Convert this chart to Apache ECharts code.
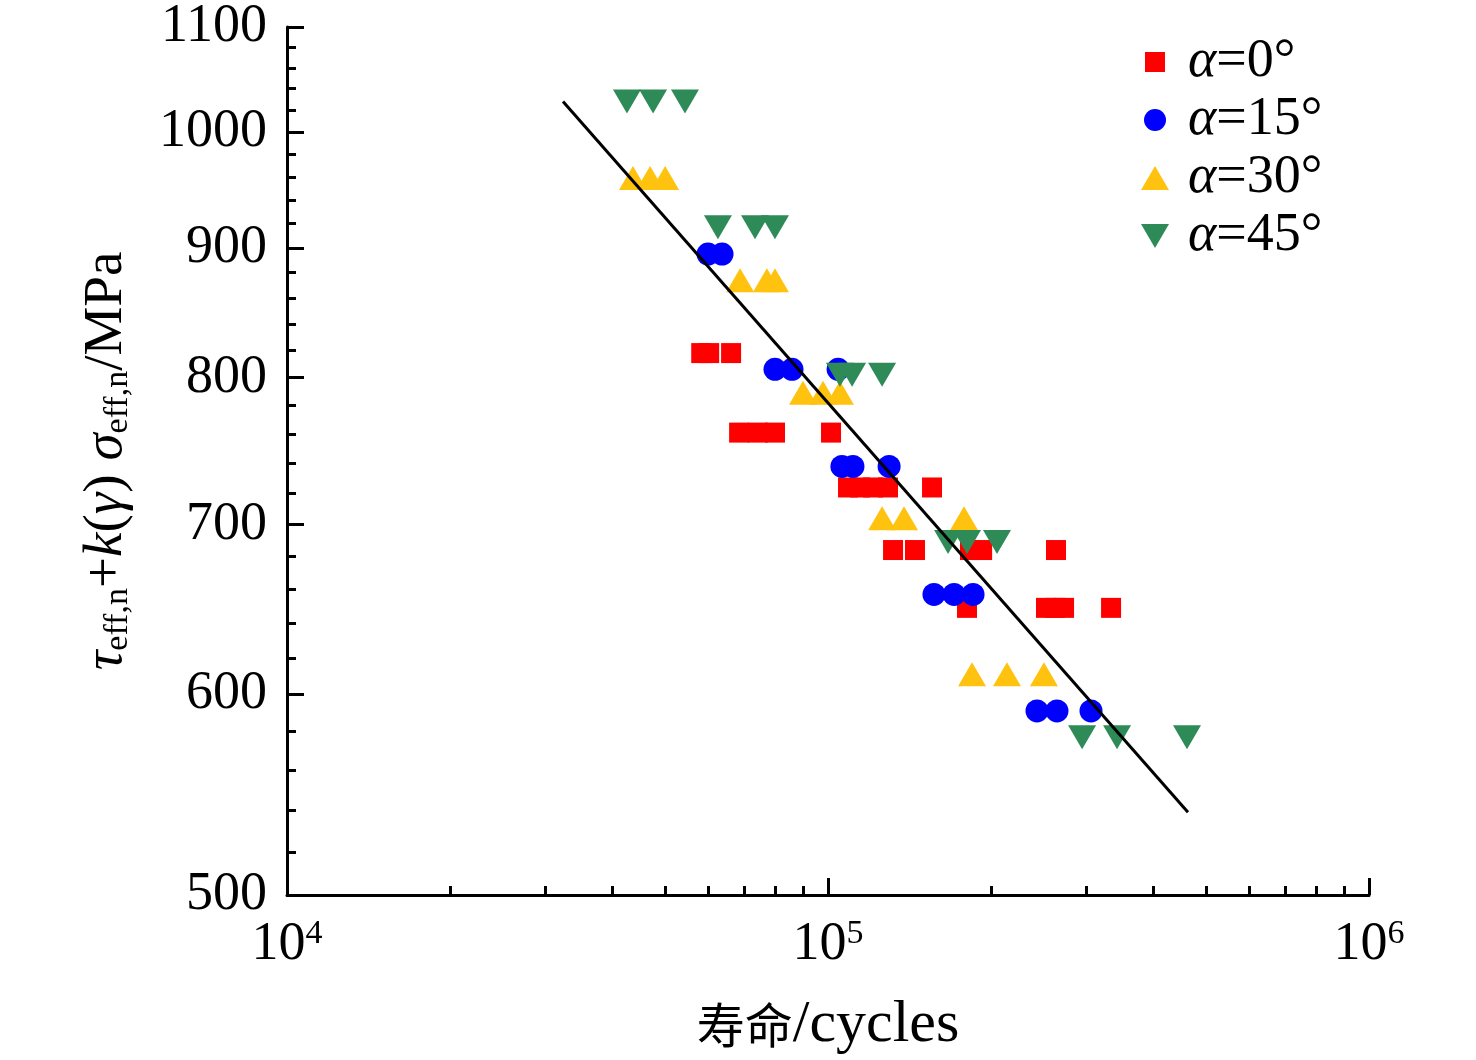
<!DOCTYPE html>
<html>
<head>
<meta charset="utf-8">
<title>寿命曲线</title>
<script src="https://cdn.jsdelivr.net/npm/echarts@6/dist/echarts.min.js"></script>
<style>
html, body { margin: 0; padding: 0; background: #fff; }
#main { width: 1476px; height: 1060px; }
</style>
</head>
<body>
<div id="main"></div>
<script>
// values (cycles, MPa)
var names = ['α=0°', 'α=15°', 'α=30°', 'α=45°'];

var life0 = [5.83e4, 6.03e4, 6.62e4, 6.85e4, 7.42e4, 7.98e4, 1.013e5, 1.089e5, 1.146e5, 1.211e5, 1.291e5, 1.557e5,
             1.319e5, 1.448e5, 1.83e5, 1.927e5, 2.639e5, 1.807e5, 2.529e5, 2.628e5, 2.731e5, 3.336e5];
var stress0 = [818, 818, 818, 761, 761, 761, 761, 724, 724, 724, 724, 724,
               684, 684, 684, 684, 684, 649, 649, 649, 649, 649];

var life15 = [6.0e4, 6.37e4, 7.98e4, 8.58e4, 1.044e5, 1.061e5, 1.112e5, 1.297e5, 1.57e5, 1.71e5, 1.854e5, 2.434e5, 2.65e5, 3.063e5];
var stress15 = [895, 895, 806, 806, 806, 738, 738, 738, 657, 657, 657, 591, 591, 591];

var life30 = [4.36e4, 4.69e4, 5.0e4, 6.88e4, 7.71e4, 7.98e4, 8.99e4, 9.79e4, 1.052e5, 1.259e5, 1.382e5, 1.784e5, 1.846e5, 2.142e5, 2.507e5];
var stress30 = [959, 959, 959, 874, 874, 874, 789, 789, 789, 704, 704, 704, 611, 611, 611];

var life45 = [4.25e4, 4.75e4, 5.44e4, 6.26e4, 7.33e4, 7.98e4, 1.052e5, 1.108e5, 1.259e5, 1.667e5, 1.807e5, 2.053e5, 2.949e5, 3.422e5, 4.609e5];
var stress45 = [1028, 1028, 1028, 917, 917, 917, 802, 802, 802, 689, 689, 689, 577, 577, 577];

// fitted line end points
var fitLife = [3.237e4, 4.628e5];
var fitStress = [1028, 539];

var yTicks = [500, 600, 700, 800, 900, 1000, 1100];
var yMinor = [520, 540, 560, 580, 620, 640, 660, 680, 720, 740, 760, 780,
              820, 840, 860, 880, 920, 940, 960, 980, 1020, 1040, 1060, 1080];
var xTicks = [1e4, 1e5, 1e6];
var xMinor = [2e4, 3e4, 4e4, 5e4, 6e4, 7e4, 8e4, 9e4, 2e5, 3e5, 4e5, 5e5, 6e5, 7e5, 8e5, 9e5];

var colors = ['#ff0000', '#0000ff', '#ffc20e', '#2e8b57'];

var lg = Math.log10;
function pairs(xs, ys) {
    return xs.map(function (x, i) { return [lg(x), lg(ys[i])]; });
}

var serif = 'Liberation Serif';
var chart = echarts.init(document.getElementById('main'));

var yMin = lg(yTicks[0]), yMax = lg(yTicks[yTicks.length - 1]);
var xMin = lg(xTicks[0]), xMax = lg(xTicks[xTicks.length - 1]);

var option = {
    animation: false,
    backgroundColor: '#fff',
    grid: { left: 287, right: 107, top: 27, bottom: 164 },
    legend: {
        orient: 'vertical',
        left: 1141,
        top: 35,
        padding: 0,
        itemWidth: 28,
        itemHeight: 24,
        itemGap: 4,
        symbolKeepAspect: false,
        data: [
            { name: names[0], icon: 'path://M0,0L0,0M28,24L28,24M4,2L24,2L24,22L4,22Z' },
            { name: names[1], icon: 'path://M0,0L0,0M28,24L28,24M3,12A11,11 0 1,0 25,12A11,11 0 1,0 3,12Z' },
            { name: names[2], icon: 'path://M14,0L28,24L0,24Z' },
            { name: names[3], icon: 'path://M0,0L28,0L14,24Z' }
        ],
        formatter: function (name) {
            return '{g|α}{t|' + name.slice(1) + '}';
        },
        textStyle: {
            fontFamily: serif,
            fontSize: 54,
            color: '#000',
            padding: [0, 0, 0, 14],
            rich: {
                g: { fontFamily: serif, fontStyle: 'italic', fontSize: 54, lineHeight: 50, color: '#000' },
                t: { fontFamily: serif, fontSize: 54, lineHeight: 50, color: '#000' }
            }
        }
    },
    xAxis: [{
        type: 'value',
        min: xMin,
        max: xMax,
        interval: 1,
        name: '{cn|寿命}{en|/cycles}',
        nameLocation: 'middle',
        nameGap: 100,
        nameTextStyle: {
            rich: {
                cn: { fontFamily: 'Noto Sans CJK SC', fontSize: 48, color: '#000' },
                en: { fontFamily: serif, fontSize: 60, color: '#000' }
            }
        },
        axisLine: { onZero: false, lineStyle: { color: '#000', width: 3 } },
        axisTick: { inside: true, length: 17, lineStyle: { color: '#000', width: 3 } },
        axisLabel: {
            margin: 22,
            formatter: function (v) { return '10{sup|' + Math.round(v) + '}'; },
            fontFamily: serif,
            fontSize: 54,
            color: '#000',
            rich: {
                sup: { fontFamily: serif, fontSize: 34, color: '#000', padding: [0, 0, 22, 0] }
            }
        },
        splitLine: { show: false }
    }, {
        type: 'value',
        position: 'bottom',
        min: xMin,
        max: xMax,
        axisLine: { show: false, onZero: false },
        axisTick: {
            inside: true,
            length: 9,
            customValues: xMinor.map(lg),
            lineStyle: { color: '#000', width: 3 }
        },
        axisLabel: { show: false },
        splitLine: { show: false }
    }],
    yAxis: [{
        type: 'value',
        min: yMin,
        max: yMax,
        name: '{it|τ}{sub|eff,n}{r|+}{it|k}{r|(}{it|γ}{r|) }{it|σ}{sub|eff,n}{r|/MPa}',
        nameLocation: 'middle',
        nameRotate: 90,
        nameGap: 152,
        nameTextStyle: {
            rich: {
                it: { fontFamily: serif, fontStyle: 'italic', fontSize: 55, color: '#000' },
                r: { fontFamily: serif, fontSize: 55, color: '#000' },
                sub: { fontFamily: serif, fontSize: 34, color: '#000', padding: [22, 0, 0, 0] }
            }
        },
        axisLine: { onZero: false, lineStyle: { color: '#000', width: 3 } },
        axisTick: {
            inside: true,
            length: 17,
            customValues: yTicks.map(lg),
            lineStyle: { color: '#000', width: 3 }
        },
        axisLabel: {
            margin: 20,
            customValues: yTicks.map(lg),
            formatter: function (v) { return String(Math.round(Math.pow(10, v))); },
            fontFamily: serif,
            fontSize: 54,
            color: '#000'
        },
        splitLine: { show: false }
    }, {
        type: 'value',
        position: 'left',
        min: yMin,
        max: yMax,
        axisLine: { show: false, onZero: false },
        axisTick: {
            inside: true,
            length: 9,
            customValues: yMinor.map(lg),
            lineStyle: { color: '#000', width: 3 }
        },
        axisLabel: { show: false },
        splitLine: { show: false }
    }],
    series: [{
        name: names[0],
        type: 'scatter',
        symbol: 'rect',
        symbolSize: 20,
        itemStyle: { color: colors[0], opacity: 1 },
        data: pairs(life0, stress0),
        z: 2
    }, {
        name: names[1],
        type: 'scatter',
        symbol: 'circle',
        symbolSize: 23,
        itemStyle: { color: colors[1], opacity: 1 },
        data: pairs(life15, stress15),
        z: 3
    }, {
        name: names[2],
        type: 'scatter',
        symbol: 'triangle',
        symbolSize: [28, 24],
        itemStyle: { color: colors[2], opacity: 1 },
        data: pairs(life30, stress30),
        z: 4
    }, {
        name: names[3],
        type: 'scatter',
        symbol: 'triangle',
        symbolSize: [28, 24],
        symbolRotate: 180,
        itemStyle: { color: colors[3], opacity: 1 },
        data: pairs(life45, stress45),
        z: 5
    }, {
        name: 'fit',
        type: 'line',
        symbol: 'none',
        lineStyle: { color: '#000', width: 3 },
        data: pairs(fitLife, fitStress),
        z: 6
    }]
};

chart.setOption(option);
</script>
</body>
</html>
